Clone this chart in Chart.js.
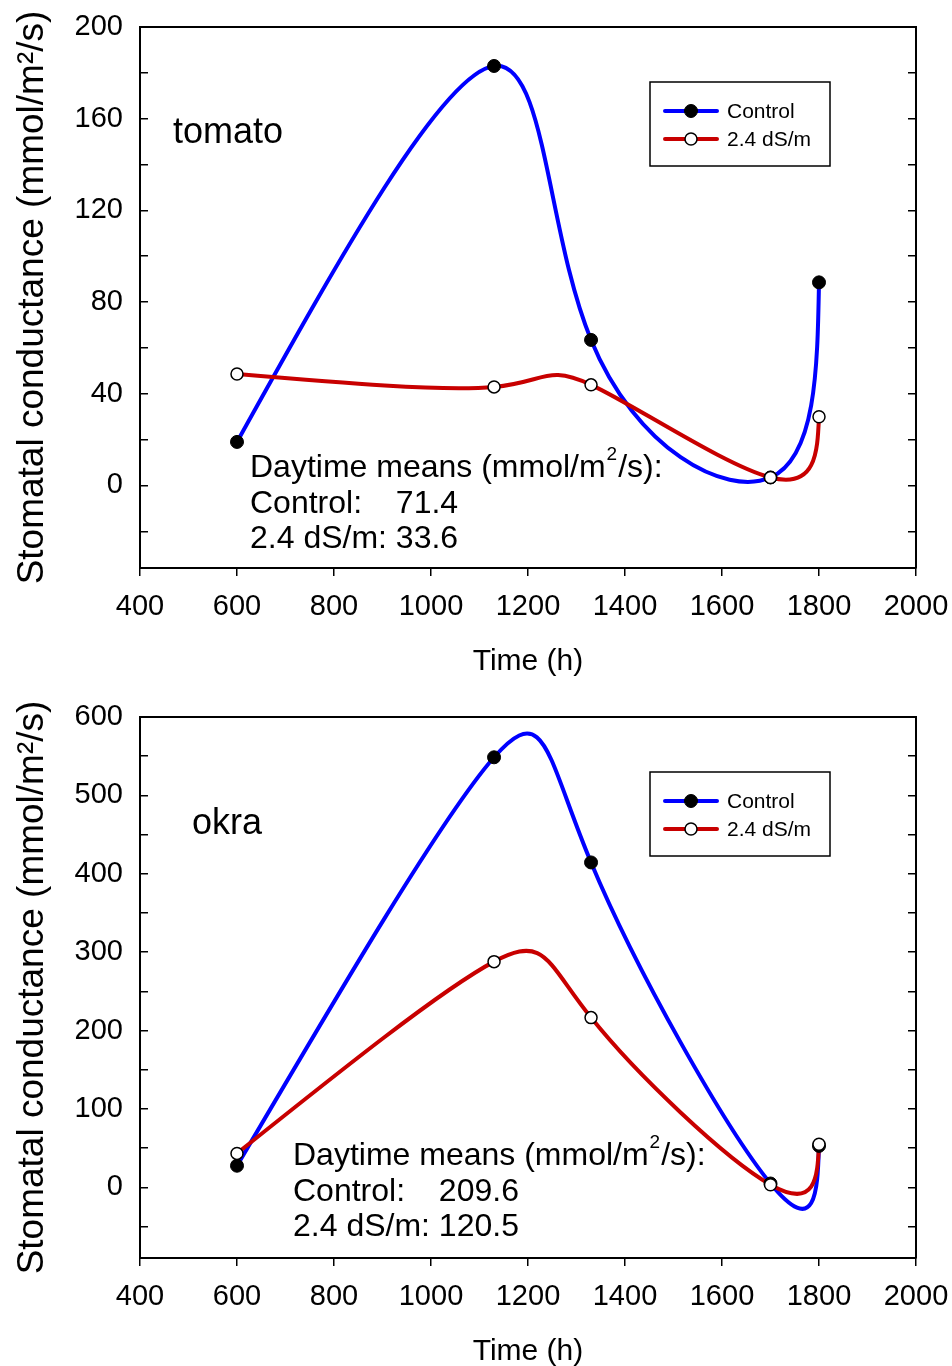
<!DOCTYPE html>
<html>
<head>
<meta charset="utf-8">
<script src="https://cdn.jsdelivr.net/npm/chart.js@4.4.1/dist/chart.umd.min.js"></script>
<style>
html,body{margin:0;padding:0;overflow:hidden;background:#fff;width:952px;height:1366px;}
.panel{position:absolute;left:0;width:952px;height:690px;}
canvas{display:block;}
</style>
</head>
<body>
<div class="panel" style="top:0"><canvas id="c1" width="952" height="690"></canvas></div>
<div class="panel" style="top:690px"><canvas id="c2" width="952" height="690"></canvas></div>
<script>
// ---- data ----
const timeHours = [600, 1130, 1330, 1700, 1800];
const seriesNames = ['Control', '2.4 dS/m'];
const tomatoControl = [19, 183, 63.5, 3.5, 88.6];
const tomatoSalt = [48.6, 43, 43.9, 3.5, 30];
const okraControl = [27.7, 548.6, 414.5, 5, 53];
const okraSalt = [43.4, 288, 216.6, 3.5, 55];
const xTickValues = [400, 600, 800, 1000, 1200, 1400, 1600, 1800, 2000];
const tomatoYTicks = [-20, 0, 20, 40, 60, 80, 100, 120, 140, 160, 180, 200];
const tomatoYLabels = [0, 40, 80, 120, 160, 200];
const okraYTicks = [-50, 0, 50, 100, 150, 200, 250, 300, 350, 400, 450, 500, 550, 600];
const okraYLabels = [0, 100, 200, 300, 400, 500, 600];
const tomatoMeans = ['71.4', '33.6'];
const okraMeans = ['209.6', '120.5'];
const meansTitle = ['Daytime means (mmol/m', '2', '/s):'];
const yTitle = 'Stomatal conductance (mmol/m\u00B2/s)';
const xTitle = 'Time (h)';

const FONT = "'Liberation Sans', Arial, sans-serif";
Chart.defaults.font.family = FONT;
Chart.defaults.color = '#000';

// parametric natural cubic spline (uniform parameter) through scale-mapped points
function naturalSecond(v) {
  const n = v.length; const M = new Array(n).fill(0);
  if (n < 3) return M;
  const m = n - 2;
  const a = new Array(m).fill(1), b = new Array(m).fill(4), c = new Array(m).fill(1), r = [];
  for (let i = 1; i < n - 1; i++) r.push(6 * (v[i + 1] - 2 * v[i] + v[i - 1]));
  for (let i = 1; i < m; i++) { const w = a[i] / b[i - 1]; b[i] -= w * c[i - 1]; r[i] -= w * r[i - 1]; }
  const s = new Array(m); s[m - 1] = r[m - 1] / b[m - 1];
  for (let i = m - 2; i >= 0; i--) s[i] = (r[i] - c[i] * s[i + 1]) / b[i];
  for (let i = 0; i < m; i++) M[i + 1] = s[i];
  return M;
}
function traceSpline(ctx, pts) {
  const xs = pts.map(p => p.x), ys = pts.map(p => p.y);
  const Mx = naturalSecond(xs), My = naturalSecond(ys);
  ctx.moveTo(xs[0], ys[0]);
  for (let i = 0; i < pts.length - 1; i++) {
    const dx = xs[i + 1] - xs[i], dy = ys[i + 1] - ys[i];
    const sx0 = dx - (2 * Mx[i] + Mx[i + 1]) / 6, sy0 = dy - (2 * My[i] + My[i + 1]) / 6;
    const sx1 = dx + (Mx[i] + 2 * Mx[i + 1]) / 6, sy1 = dy + (My[i] + 2 * My[i + 1]) / 6;
    ctx.bezierCurveTo(xs[i] + sx0 / 3, ys[i] + sy0 / 3, xs[i + 1] - sx1 / 3, ys[i + 1] - sy1 / 3, xs[i + 1], ys[i + 1]);
  }
}

const splinePlugin = {
  id: 'splineLines',
  beforeDatasetsDraw(chart) {
    const { ctx, chartArea: a } = chart;
    ctx.save();
    ctx.beginPath(); ctx.rect(a.left, a.top, a.right - a.left, a.bottom - a.top); ctx.clip();
    chart.data.datasets.forEach((ds, i) => {
      const meta = chart.getDatasetMeta(i);
      const pts = meta.data.map(e => ({ x: e.x, y: e.y }));
      ctx.beginPath();
      traceSpline(ctx, pts);
      ctx.strokeStyle = ds.borderColor; ctx.lineWidth = ds.borderWidth;
      ctx.lineJoin = 'round'; ctx.lineCap = 'round';
      ctx.stroke();
    });
    ctx.restore();
    // top frame line
    ctx.save();
    ctx.strokeStyle = '#000'; ctx.lineWidth = 2;
    ctx.beginPath(); ctx.moveTo(a.left - 1, a.top); ctx.lineTo(a.right + 1, a.top); ctx.stroke();
    ctx.restore();
  }
};

const legendPlugin = {
  id: 'sketchLegend',
  afterDatasetsDraw(chart) {
    const { ctx, chartArea: a } = chart;
    const bx = a.left + 510, by = a.top + 55, bw = 180, bh = 84;
    ctx.save();
    ctx.fillStyle = '#fff'; ctx.fillRect(bx, by, bw, bh);
    ctx.strokeStyle = '#000'; ctx.lineWidth = 1.5; ctx.strokeRect(bx, by, bw, bh);
    chart.data.datasets.forEach((ds, i) => {
      const yy = by + 29 + 28 * i;
      ctx.beginPath(); ctx.moveTo(bx + 15, yy); ctx.lineTo(bx + 67, yy);
      ctx.strokeStyle = ds.borderColor; ctx.lineWidth = ds.borderWidth; ctx.lineCap = 'round'; ctx.stroke();
      ctx.beginPath(); ctx.arc(bx + 41, yy, ds.pointRadius, 0, 2 * Math.PI);
      ctx.fillStyle = ds.pointBackgroundColor; ctx.fill();
      ctx.lineWidth = ds.pointBorderWidth; ctx.strokeStyle = ds.pointBorderColor; ctx.stroke();
      ctx.fillStyle = '#000'; ctx.font = '21px ' + FONT; ctx.textBaseline = 'middle'; ctx.textAlign = 'left';
      ctx.fillText(ds.label, bx + 77, yy + 1);
    });
    ctx.restore();
  }
};

const notesPlugin = {
  id: 'notes',
  afterDatasetsDraw(chart, args, opts) {
    const { ctx, chartArea: a } = chart;
    ctx.save();
    ctx.fillStyle = '#000'; ctx.textBaseline = 'alphabetic'; ctx.textAlign = 'left';
    ctx.font = '36px ' + FONT;
    ctx.fillText(opts.name, a.left + opts.nameAt[0], a.top + opts.nameAt[1]);
    const x = a.left + opts.meansAt[0], y = a.top + opts.meansAt[1];
    ctx.font = '32px ' + FONT;
    ctx.fillText(meansTitle[0], x, y);
    const w1 = ctx.measureText(meansTitle[0]).width;
    ctx.font = '19px ' + FONT;
    ctx.fillText(meansTitle[1], x + w1 + 1, y - 17);
    const w2 = ctx.measureText(meansTitle[1]).width;
    ctx.font = '32px ' + FONT;
    ctx.fillText(meansTitle[2], x + w1 + w2 + 2, y);
    const tab = ctx.measureText(seriesNames[1] + ': ').width;
    seriesNames.forEach((nm, i) => {
      const yy = y + 35.5 * (i + 1);
      ctx.fillText(nm + ':', x, yy);
      ctx.fillText(opts.means[i], x + tab, yy);
    });
    ctx.restore();
  }
};

function makeDatasets(ctrl, salt) {
  return [
    { label: seriesNames[0], data: timeHours.map((x, i) => ({ x, y: ctrl[i] })),
      borderColor: '#0000FF', borderWidth: 4, showLine: false,
      pointRadius: 6.5, pointBackgroundColor: '#000', pointBorderColor: '#000', pointBorderWidth: 1, order: 1 },
    { label: seriesNames[1], data: timeHours.map((x, i) => ({ x, y: salt[i] })),
      borderColor: '#C80000', borderWidth: 4, showLine: false,
      pointRadius: 6, pointBackgroundColor: '#fff', pointBorderColor: '#000', pointBorderWidth: 1.5, order: 0 }
  ];
}

function noPad(s) { s.paddingTop = 0; s.paddingBottom = 0; s.paddingLeft = 0; s.paddingRight = 0; }

function makeChart(id, ctrl, salt, yMin, yMax, yTicks, yLabels, notes) {
  const tickList = arr => (s => { s.ticks = arr.map(v => ({ value: v })); });
  return new Chart(document.getElementById(id), {
    type: 'line',
    data: { datasets: makeDatasets(ctrl, salt) },
    plugins: [splinePlugin, legendPlugin, notesPlugin],
    options: {
      responsive: false, animation: false,
      layout: { padding: { left: 0, right: 36, top: 27, bottom: 0 } },
      plugins: { legend: { display: false }, tooltip: { enabled: false }, notes },
      scales: {
        x: {
          type: 'linear', position: 'bottom', min: 400, max: 2000,
          afterBuildTicks: tickList(xTickValues),
          ticks: { font: { size: 29 }, padding: 14, maxRotation: 0, autoSkip: false, callback: v => String(v) },
          grid: { drawOnChartArea: false, drawTicks: true, tickLength: 8, color: '#000', lineWidth: 1.5 },
          border: { display: true, color: '#000', width: 2 },
          title: { display: true, text: xTitle, font: { size: 30 }, padding: { top: 0, bottom: 10 } },
          afterFit: s => { s.height = 122; noPad(s); }
        },
        y: {
          type: 'linear', position: 'left', min: yMin, max: yMax,
          afterBuildTicks: tickList(yTicks),
          ticks: { font: { size: 29 }, padding: 25, autoSkip: false, callback: v => yLabels.includes(v) ? String(v) : '' },
          grid: { drawOnChartArea: false, drawTicks: true, tickLength: -8, color: '#000', lineWidth: 1.5 },
          border: { display: true, color: '#000', width: 2 },
          title: { display: true, text: yTitle, font: { size: 37 }, padding: { top: 11, bottom: 0 } },
          afterFit: s => { s.width = 140; noPad(s); }
        },
        y2: {
          type: 'linear', position: 'right', min: yMin, max: yMax,
          afterBuildTicks: tickList(yTicks),
          ticks: { display: false },
          grid: { drawOnChartArea: false, drawTicks: true, tickLength: -8, color: '#000', lineWidth: 1.5 },
          border: { display: true, color: '#000', width: 2 },
          afterFit: s => { s.width = 0; noPad(s); }
        }
      }
    }
  });
}

makeChart('c1', tomatoControl, tomatoSalt, -36, 200, tomatoYTicks, tomatoYLabels,
  { name: 'tomato', nameAt: [33, 116], meansAt: [110, 450], means: tomatoMeans });
makeChart('c2', okraControl, okraSalt, -90, 600, okraYTicks, okraYLabels,
  { name: 'okra', nameAt: [52, 117], meansAt: [153, 448], means: okraMeans });
</script>
</body>
</html>
